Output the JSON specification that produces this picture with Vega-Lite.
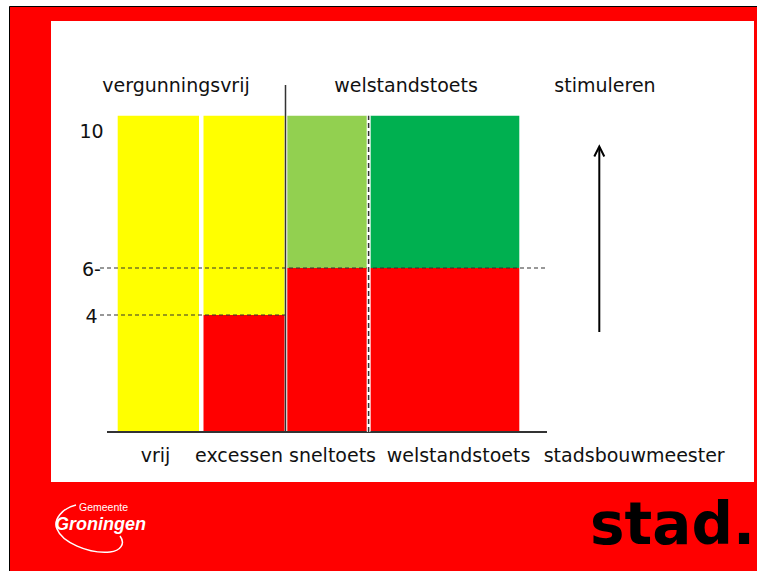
{
  "$schema": "https://vega.github.io/schema/vega-lite/v6.json",
  "width": 748,
  "height": 565,
  "autosize": {"type": "none"},
  "padding": {"left": 9, "top": 6, "right": 0, "bottom": 0},
  "background": "#FFFFFF",
  "config": {
    "view": {"fill": "#FF0000", "stroke": "#000000", "strokeWidth": 1}
  },
  "datasets": {
    "balken": [
      {"kolom": "vrij", "begin": 108.7, "eind": 190, "van": 0, "tot": 10, "zone": "vergunningsvrij"},
      {"kolom": "excessen", "begin": 194.5, "eind": 275.5, "van": 4, "tot": 10, "zone": "vergunningsvrij"},
      {"kolom": "excessen", "begin": 194.5, "eind": 275.5, "van": 0, "tot": 4, "zone": "onder drempel"},
      {"kolom": "sneltoets", "begin": 278.3, "eind": 357.8, "van": 6, "tot": 10, "zone": "sneltoets"},
      {"kolom": "sneltoets", "begin": 278.3, "eind": 357.8, "van": 0, "tot": 6, "zone": "onder drempel"},
      {"kolom": "welstandstoets", "begin": 361.5, "eind": 510.3, "van": 6, "tot": 10, "zone": "welstandstoets"},
      {"kolom": "welstandstoets", "begin": 361.5, "eind": 510.3, "van": 0, "tot": 6, "zone": "onder drempel"}
    ],
    "drempels": [
      {"waarde": 6, "van": 91, "tot": 538},
      {"waarde": 4, "van": 91, "tot": 276}
    ],
    "schaal": [
      {"label": "10", "waarde": 10},
      {"label": "6-", "waarde": 6},
      {"label": "4", "waarde": 4}
    ],
    "koppen": [
      {"tekst": "vergunningsvrij", "x": 167},
      {"tekst": "welstandstoets", "x": 397},
      {"tekst": "stimuleren", "x": 596}
    ],
    "labels": [
      {"tekst": "vrij", "x": 146.5},
      {"tekst": "excessen", "x": 230},
      {"tekst": "sneltoets", "x": 323.5},
      {"tekst": "welstandstoets", "x": 449.5},
      {"tekst": "stadsbouwmeester", "x": 625.2}
    ],
    "een": [{}]
  },
  "layer": [
    {
      "data": {"name": "een"},
      "mark": {"type": "rect", "fill": "#FFFFFF"},
      "encoding": {
        "x": {"datum": 42, "type": "quantitative", "scale": {"domain": [0, 748], "nice": false, "zero": false}, "axis": null},
        "x2": {"datum": 745},
        "y": {"datum": 15, "type": "quantitative", "scale": {"domain": [0, 565], "reverse": true, "nice": false, "zero": false}, "axis": null},
        "y2": {"datum": 476}
      }
    },
    {
      "layer": [
        {
          "data": {"name": "balken"},
          "mark": {"type": "rect"},
          "encoding": {
            "x": {"field": "begin", "type": "quantitative", "scale": {"domain": [0, 748], "nice": false, "zero": false}, "axis": null},
            "x2": {"field": "eind"},
            "y": {"field": "van", "type": "quantitative", "scale": {"domain": [0, 4, 6, 10], "range": [426, 309, 262, 109.7], "nice": false, "zero": false}, "axis": null},
            "y2": {"field": "tot"},
            "color": {"field": "zone", "type": "nominal", "legend": null,
              "scale": {"domain": ["vergunningsvrij", "onder drempel", "sneltoets", "welstandstoets"], "range": ["#FFFF00", "#FF0000", "#92D050", "#00B050"]}}
          }
        },
        {
          "data": {"name": "een"},
          "mark": {"type": "rule", "stroke": "#333333", "strokeWidth": 2},
          "encoding": {
            "x": {"datum": 98, "type": "quantitative"},
            "x2": {"datum": 538},
            "y": {"datum": 0, "type": "quantitative"}
          }
        },
        {
          "data": {"name": "drempels"},
          "mark": {"type": "rule", "stroke": "#333333", "strokeWidth": 1.2, "strokeDash": [4, 3]},
          "encoding": {
            "x": {"field": "van", "type": "quantitative"},
            "x2": {"field": "tot"},
            "y": {"field": "waarde", "type": "quantitative"}
          }
        },
        {
          "data": {"name": "een"},
          "mark": {"type": "rule", "stroke": "#FFFFFF", "strokeWidth": 3.5},
          "encoding": {
            "x": {"datum": 359.6, "type": "quantitative"},
            "y": {"datum": 0, "type": "quantitative"},
            "y2": {"datum": 10}
          }
        },
        {
          "data": {"name": "een"},
          "mark": {"type": "rule", "stroke": "#333333", "strokeWidth": 1.5, "strokeDash": [5, 3]},
          "encoding": {
            "x": {"datum": 359.6, "type": "quantitative"},
            "y": {"datum": 0, "type": "quantitative"},
            "y2": {"datum": 10}
          }
        },
        {
          "data": {"name": "schaal"},
          "transform": [{"filter": "datum.waarde == 10"}],
          "mark": {"type": "text", "font": "DejaVu Sans", "fontSize": 19, "fill": "#111111", "align": "center", "baseline": "middle", "dy": 16},
          "encoding": {
            "x": {"datum": 82.5, "type": "quantitative"},
            "y": {"field": "waarde", "type": "quantitative"},
            "text": {"field": "label"}
          }
        },
        {
          "data": {"name": "schaal"},
          "transform": [{"filter": "datum.waarde < 10"}],
          "mark": {"type": "text", "font": "DejaVu Sans", "fontSize": 19, "fill": "#111111", "align": "center", "baseline": "middle", "dy": 1.5},
          "encoding": {
            "x": {"datum": 82.5, "type": "quantitative"},
            "y": {"field": "waarde", "type": "quantitative"},
            "text": {"field": "label"}
          }
        }
      ]
    },
    {
      "layer": [
        {
          "data": {"name": "een"},
          "mark": {"type": "rule", "stroke": "#333333", "strokeWidth": 1.5},
          "encoding": {
            "x": {"datum": 276.5, "type": "quantitative", "scale": {"domain": [0, 748], "nice": false, "zero": false}, "axis": null},
            "y": {"datum": 79, "type": "quantitative", "scale": {"domain": [0, 565], "reverse": true, "nice": false, "zero": false}, "axis": null},
            "y2": {"datum": 426}
          }
        },
        {
          "data": {"name": "een"},
          "mark": {"type": "rule", "stroke": "#000000", "strokeWidth": 2},
          "encoding": {
            "x": {"datum": 590.3, "type": "quantitative"},
            "y": {"datum": 141, "type": "quantitative"},
            "y2": {"datum": 326}
          }
        },
        {
          "data": {"name": "een"},
          "mark": {"type": "point", "shape": "M-1,1L0,-1L1,1", "size": 100, "filled": false, "stroke": "#000000", "strokeWidth": 2, "opacity": 1, "strokeJoin": "miter"},
          "encoding": {
            "x": {"datum": 590.3, "type": "quantitative"},
            "y": {"datum": 145.5, "type": "quantitative"}
          }
        },
        {
          "data": {"name": "koppen"},
          "mark": {"type": "text", "font": "DejaVu Sans", "fontSize": 19, "fill": "#111111", "align": "center", "baseline": "alphabetic"},
          "encoding": {
            "x": {"field": "x", "type": "quantitative"},
            "y": {"datum": 86, "type": "quantitative"},
            "text": {"field": "tekst"}
          }
        },
        {
          "data": {"name": "labels"},
          "mark": {"type": "text", "font": "DejaVu Sans", "fontSize": 19, "fill": "#111111", "align": "center", "baseline": "alphabetic"},
          "encoding": {
            "x": {"field": "x", "type": "quantitative"},
            "y": {"datum": 455.5, "type": "quantitative"},
            "text": {"field": "tekst"}
          }
        },
        {
          "data": {"name": "een"},
          "mark": {"type": "point", "shape": "M-14,-25C-28,-22,-37,-10,-33,-1C-28,12,-2,24,20,22C30,21,36,14,30,6", "size": 4, "filled": false, "stroke": "#FFFFFF", "strokeWidth": 1.5, "opacity": 1},
          "encoding": {
            "x": {"datum": 81, "type": "quantitative"},
            "y": {"datum": 524, "type": "quantitative"}
          }
        },
        {
          "data": {"name": "een"},
          "mark": {"type": "text", "text": "Gemeente", "font": "Liberation Sans", "fontSize": 10.5, "fill": "#FFFFFF", "align": "left", "baseline": "alphabetic"},
          "encoding": {
            "x": {"datum": 70, "type": "quantitative"},
            "y": {"datum": 504.5, "type": "quantitative"}
          }
        },
        {
          "data": {"name": "een"},
          "mark": {"type": "text", "text": "Groningen", "font": "Liberation Sans", "fontSize": 18, "fontWeight": "bold", "fontStyle": "italic", "fill": "#FFFFFF", "align": "left", "baseline": "alphabetic"},
          "encoding": {
            "x": {"datum": 46, "type": "quantitative"},
            "y": {"datum": 524, "type": "quantitative"}
          }
        },
        {
          "data": {"name": "een"},
          "mark": {"type": "text", "text": "stad.", "font": "DejaVu Sans", "fontSize": 58, "fontWeight": "bold", "fill": "#000000", "align": "left", "baseline": "alphabetic"},
          "encoding": {
            "x": {"datum": 581, "type": "quantitative"},
            "y": {"datum": 537.5, "type": "quantitative"}
          }
        }
      ]
    }
  ],
  "resolve": {"scale": {"y": "independent"}}
}
